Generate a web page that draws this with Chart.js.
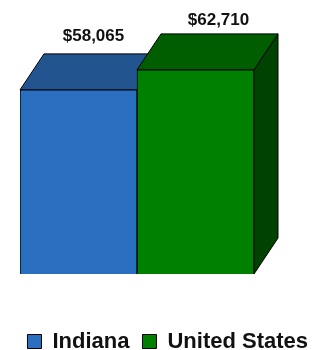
<!DOCTYPE html>
<html>
<head>
<meta charset="utf-8">
<script src="https://cdn.jsdelivr.net/npm/chart.js@4/dist/chart.umd.min.js"></script>
<style>
  html, body { margin: 0; padding: 0; background: #ffffff; overflow: hidden; }
  #wrap { width: 323px; height: 350px; }
</style>
</head>
<body>
<div id="wrap"><canvas id="c" width="323" height="350"></canvas></div>
<script>
// ---- data ----
const categories = ['Median Household Income'];
const seriesNames = ['Indiana', 'United States'];
const indianaValues = [58065];
const usValues = [62710];

// ---- styles ----
const frontColors = ['#2B70C0', '#008000'];
const topColors = ['#22548F', '#005E00'];
const sideColors = ['#1A3F6B', '#004200'];
const FONT = '"Liberation Sans", Arial, Helvetica, sans-serif';

const bar3d = {
  id: 'bar3d',
  beforeDatasetsDraw(chart, args, opts) {
    const ctx = chart.ctx;
    const bottom = chart.chartArea.bottom;
    ctx.save();
    ctx.lineWidth = 1;
    ctx.strokeStyle = '#000000';
    ctx.lineJoin = 'miter';
    chart.data.datasets.forEach((ds, i) => {
      const meta = chart.getDatasetMeta(i);
      if (meta.hidden) return;
      meta.data.forEach((bar) => {
        const p = bar.getProps(['x', 'y', 'base', 'width'], true);
        const base = Math.min(p.base, bottom);
        const l = p.x - p.width / 2, r = p.x + p.width / 2;
        const dx = opts.dx, dy = opts.dy;
        // side face
        ctx.beginPath();
        ctx.moveTo(r, p.y);
        ctx.lineTo(r + dx, p.y + dy);
        ctx.lineTo(r + dx, base + dy);
        ctx.lineTo(r, base);
        ctx.closePath();
        ctx.fillStyle = sideColors[i];
        ctx.fill();
        ctx.stroke();
        // top face
        ctx.beginPath();
        ctx.moveTo(l, p.y);
        ctx.lineTo(l + dx, p.y + dy);
        ctx.lineTo(r + dx, p.y + dy);
        ctx.lineTo(r, p.y);
        ctx.closePath();
        ctx.fillStyle = topColors[i];
        ctx.fill();
        ctx.stroke();
      });
    });
    ctx.restore();
  },
  afterDatasetsDraw(chart, args, opts) {
    const ctx = chart.ctx;
    ctx.save();
    ctx.font = 'bold 17px ' + FONT;
    ctx.fillStyle = '#111111';
    ctx.textAlign = 'center';
    ctx.textBaseline = 'alphabetic';
    chart.data.datasets.forEach((ds, i) => {
      const meta = chart.getDatasetMeta(i);
      meta.data.forEach((bar, j) => {
        const p = bar.getProps(['x', 'y'], true);
        const v = ds.data[j];
        const txt = '$' + v.toLocaleString('en-US');
        ctx.fillText(txt, p.x + opts.dx / 2 + opts.labelDx[i], p.y + opts.dy + opts.labelDy[i]);
      });
    });
    ctx.restore();
  }
};

new Chart(document.getElementById('c'), {
  type: 'bar',
  data: {
    labels: categories,
    datasets: [
      { label: seriesNames[0], data: indianaValues, backgroundColor: frontColors[0], borderColor: '#000000', borderWidth: 1, borderSkipped: false },
      { label: seriesNames[1], data: usValues, backgroundColor: frontColors[1], borderColor: '#000000', borderWidth: 1, borderSkipped: false }
    ]
  },
  options: {
    responsive: false,
    devicePixelRatio: 1,
    animation: false,
    datasets: { bar: { barPercentage: 1, categoryPercentage: 1 } },
    layout: { padding: { left: 14, right: 1.5, top: 38.5, bottom: -12.5 } },
    scales: {
      x: {
        display: true,
        ticks: { display: false },
        grid: { display: false },
        border: { display: false },
        afterFit(s) { s.height = 43.5; }
      },
      y: {
        display: true,
        position: 'left',
        min: 15300,
        max: 70000,
        ticks: { display: false },
        grid: { display: false },
        border: { display: false },
        afterFit(s) { s.width = 6; }
      },
      y2: {
        display: true,
        position: 'right',
        ticks: { display: false },
        grid: { display: false },
        border: { display: false },
        afterFit(s) { s.width = 67.5; }
      }
    },
    plugins: {
      tooltip: { enabled: false },
      legend: {
        display: true,
        position: 'bottom',
        labels: {
          font: { family: FONT, size: 22, weight: 'bold' },
          color: '#111111',
          boxWidth: 14,
          boxHeight: 14,
          padding: 13
        }
      },
      bar3d: { dx: 24, dy: -36, labelDx: [3, 11], labelDy: [-13, -8.5] }
    }
  },
  plugins: [bar3d]
});
</script>
</body>
</html>
